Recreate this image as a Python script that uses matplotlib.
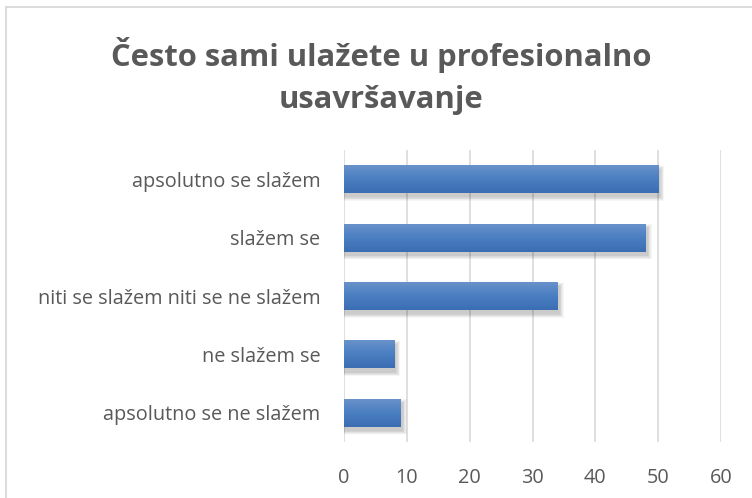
import numpy as np
import matplotlib
matplotlib.use("Agg")
import matplotlib.pyplot as plt
from matplotlib.patches import Rectangle
from matplotlib.colors import LinearSegmentedColormap

categories = [
    "apsolutno se slažem",
    "slažem se",
    "niti se slažem niti se ne slažem",
    "ne slažem se",
    "apsolutno se ne slažem",
]
values = [50, 48, 34, 8, 9]
x_ticks = [0, 10, 20, 30, 40, 50, 60]
title = "Često sami ulažete u profesionalno\nusavršavanje"

W, H = 752, 498
fig = plt.figure(figsize=(W / 100, H / 100), dpi=100)
fig.patch.set_facecolor("white")

# chart frame (runs off the right and bottom edges)
frame = Rectangle((6 / W, -0.1), 1.2, 1.1 - 7 / H, transform=fig.transFigure,
                  fill=False, edgecolor="#d9d9d9", linewidth=1.3)
fig.patches.append(frame)

left, right = 344 / W, 721 / W
bottom, top = 1 - 442 / H, 1 - 150 / H
ax = fig.add_axes([left, bottom, right - left, top - bottom])

for s in ax.spines.values():
    s.set_visible(False)
ax.set_xticks(x_ticks)
ax.set_yticks(range(len(categories)))
ax.set_yticklabels(categories)
ax.tick_params(length=0, colors="#595959", labelsize=14.3)
ax.tick_params(axis="x", pad=19)
ax.tick_params(axis="y", pad=17)
for lab in ax.get_xticklabels() + ax.get_yticklabels():
    lab.set_fontfamily(["Open Sans", "DejaVu Sans"])
    lab.set_color("#595959")
ax.grid(axis="x", color="#d9d9d9", linewidth=1.2)
ax.set_axisbelow(True)

bar_h = 0.48
cmap = LinearSegmentedColormap.from_list("bar", ["#6b93cb", "#4a7fc2", "#3b6db3"])
grad = np.linspace(0, 1, 64).reshape(-1, 1)

for i, v in enumerate(values):
    # soft drop shadow
    for k in range(6):
        sh = Rectangle((0, i - bar_h / 2 + 0.07 - 0.012 * k),
                       v + 0.35 + 0.12 * k, bar_h + 0.024 * k,
                       facecolor="#000000", alpha=0.035, edgecolor="none", zorder=2)
        ax.add_patch(sh)
    rect = Rectangle((0, i - bar_h / 2), v, bar_h, facecolor="#4a7fc2",
                     edgecolor="none", zorder=3)
    ax.add_patch(rect)
    im = ax.imshow(grad, cmap=cmap, aspect="auto", zorder=4,
                   extent=[0, v, i + bar_h / 2, i - bar_h / 2], interpolation="bilinear")
    im.set_clip_path(rect)

ax.set_xlim(0, 60)
ax.set_ylim(len(categories) - 0.5, -0.5)

fig.text(381 / W, 1 - 76 / H, title, ha="center", va="center",
         fontsize=22.3, fontweight="bold", color="#595959",
         family=["Open Sans", "DejaVu Sans"], linespacing=1.5)

fig.savefig("out.png", dpi=100, facecolor="white")
